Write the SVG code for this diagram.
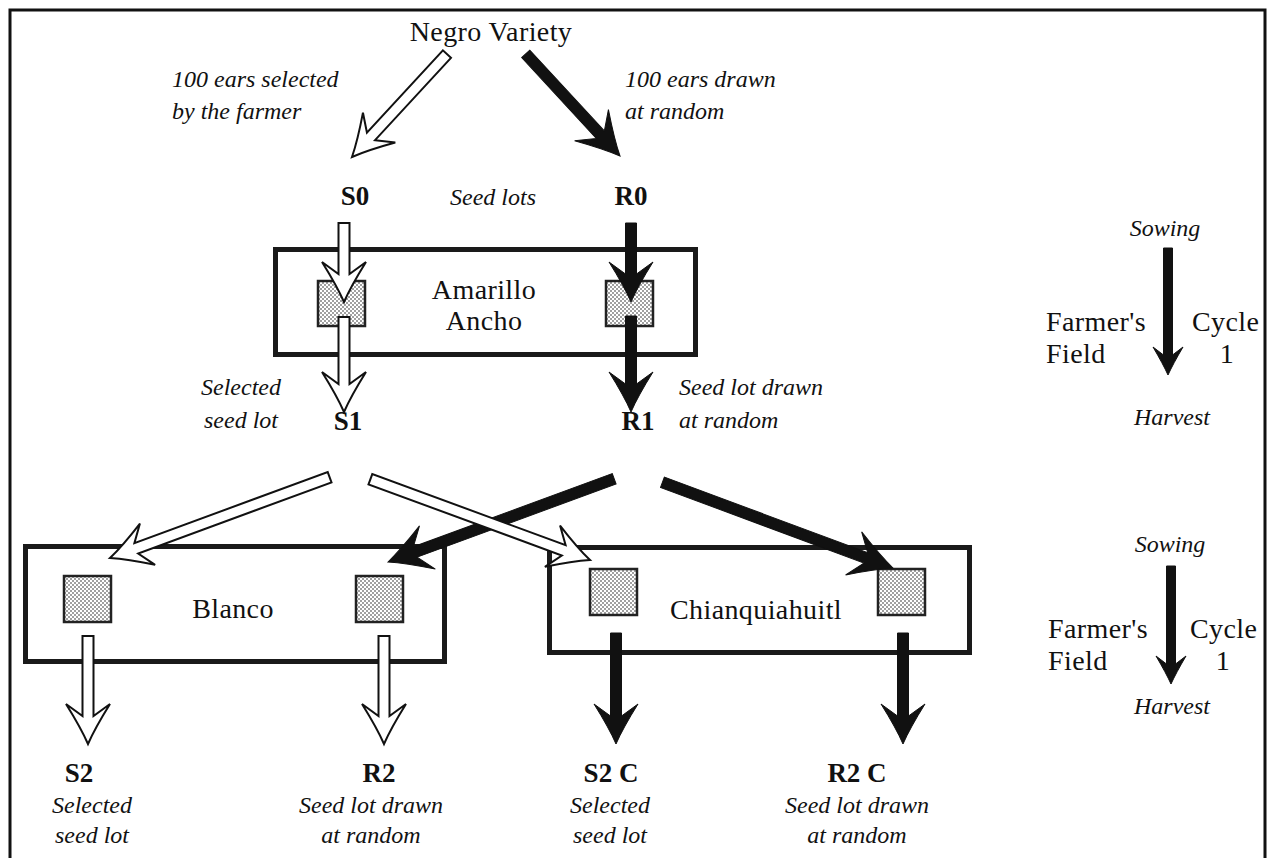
<svg xmlns="http://www.w3.org/2000/svg" width="1274" height="858" viewBox="0 0 1274 858" font-family="'Liberation Serif','Times New Roman',serif">
<style>
text{font-family:"Liberation Serif","Times New Roman",serif;fill:#111}
.r{font-size:28px;letter-spacing:0.4px}
.i{font-size:24px;font-style:italic}
.b{font-size:27px;font-weight:bold}
.m{text-anchor:middle}
.box{fill:#fff;stroke:#1a1a1a;stroke-width:5}
.sq{fill:url(#dots);stroke:#222;stroke-width:2.5}
.wa{fill:#fff;stroke:#111;stroke-width:2;stroke-linejoin:miter}
.ba{fill:#111;stroke:#111;stroke-width:1}
</style>
<defs>
<pattern id="dots" width="4" height="4" patternUnits="userSpaceOnUse">
<rect width="4" height="4" fill="#fff"/>
<circle cx="1" cy="1" r="0.75" fill="#111"/>
<circle cx="3" cy="3" r="0.75" fill="#111"/>
</pattern>
</defs>
<rect width="1274" height="858" fill="#fff"/>
<path d="M10,858 V10 H1265 V858" fill="none" stroke="#111" stroke-width="3"/>

<g id="negro"><text class="r m" x="491" y="41">Negro Variety</text></g>
<g id="lbl-sel100"><text class="i" x="172" y="87">100 ears selected</text><text class="i" x="172" y="119">by the farmer</text></g>
<g id="lbl-rand100"><text class="i" x="625" y="87">100 ears drawn</text><text class="i" x="625" y="119">at random</text></g>
<g id="s0"><text class="b m" x="355" y="205">S0</text></g>
<g id="seedlots"><text class="i m" x="493" y="205">Seed lots</text></g>
<g id="r0"><text class="b m" x="631" y="205">R0</text></g>

<g id="amarillo">
<rect class="box" x="275.5" y="249.5" width="420" height="105"/>
<rect class="sq" x="318" y="281" width="47" height="45"/>
<rect class="sq" x="606" y="281" width="47" height="45"/>
<text class="r m" x="484" y="299">Amarillo</text>
<text class="r m" x="484" y="330">Ancho</text>
</g>

<g id="lbl-sel1"><text class="i m" x="241" y="395">Selected</text><text class="i m" x="241" y="428">seed lot</text></g>
<g id="s1"><text class="b m" x="348" y="430">S1</text></g>
<g id="r1"><text class="b m" x="638" y="430">R1</text></g>
<g id="lbl-rand1"><text class="i" x="679" y="395">Seed lot drawn</text><text class="i" x="679" y="428">at random</text></g>

<g id="blanco">
<rect class="box" x="25.5" y="546.5" width="419" height="115"/>
<rect class="sq" x="64" y="576" width="47" height="46"/>
<rect class="sq" x="356" y="576" width="47" height="46"/>
<text class="r m" x="233" y="618">Blanco</text>
</g>

<g id="chianquiahuitl">
<rect class="box" x="549.5" y="547.5" width="420" height="105"/>
<rect class="sq" x="590" y="569" width="47" height="46"/>
<rect class="sq" x="878" y="569" width="47" height="46"/>
<text class="r m" x="756" y="619">Chianquiahuitl</text>
</g>

<g id="s2"><text class="b m" x="79" y="782">S2</text><text class="i m" x="92" y="813">Selected</text><text class="i m" x="92" y="843">seed lot</text></g>
<g id="r2"><text class="b m" x="379" y="782">R2</text><text class="i m" x="371" y="813">Seed lot drawn</text><text class="i m" x="371" y="843">at random</text></g>
<g id="s2c"><text class="b m" x="611" y="782">S2 C</text><text class="i m" x="610" y="813">Selected</text><text class="i m" x="610" y="843">seed lot</text></g>
<g id="r2c"><text class="b m" x="857" y="782">R2 C</text><text class="i m" x="857" y="813">Seed lot drawn</text><text class="i m" x="857" y="843">at random</text></g>

<g id="legend1">
<text class="i m" x="1165" y="236">Sowing</text>
<text class="r" x="1046" y="331">Farmer's</text>
<text class="r" x="1046" y="363">Field</text>
<text class="r" x="1192" y="331">Cycle</text>
<text class="r m" x="1227" y="363">1</text>
<text class="i m" x="1172" y="425">Harvest</text>
</g>
<g id="legend2">
<text class="i m" x="1170" y="552">Sowing</text>
<text class="r" x="1048" y="638">Farmer's</text>
<text class="r" x="1048" y="670">Field</text>
<text class="r" x="1190" y="638">Cycle</text>
<text class="r m" x="1223" y="670">1</text>
<text class="i m" x="1172" y="714">Harvest</text>
</g>

<g id="connectors">
<path class="wa" transform="translate(352,157) rotate(132.7)" d="M0,0 Q-16,-7 -40,-22 L-28,-5.5 L-140,-5.5 L-140,5.5 L-28,5.5 L-40,22 Q-16,7 0,0Z"/>
<path class="ba" transform="translate(620,156) rotate(47.3)" d="M0,0 Q-16,-7 -42,-23 L-29,-5.5 L-139,-5.5 L-139,5.5 L-29,5.5 L-42,23 Q-16,7 0,0Z"/>
<path class="wa" transform="translate(344,302) rotate(90)" d="M0,0 Q-16,-7 -40,-22 L-28,-5.5 L-79,-5.5 L-79,5.5 L-28,5.5 L-40,22 Q-16,7 0,0Z"/>
<path class="wa" transform="translate(344,412) rotate(90)" d="M0,0 Q-16,-7 -40,-22 L-28,-5.5 L-95,-5.5 L-95,5.5 L-28,5.5 L-40,22 Q-16,7 0,0Z"/>
<path class="ba" transform="translate(631,302) rotate(90)" d="M0,0 Q-16,-7 -40,-22 L-28,-5.5 L-79,-5.5 L-79,5.5 L-28,5.5 L-40,22 Q-16,7 0,0Z"/>
<path class="ba" transform="translate(631,412) rotate(90)" d="M0,0 Q-16,-7 -40,-22 L-28,-5.5 L-96,-5.5 L-96,5.5 L-28,5.5 L-40,22 Q-16,7 0,0Z"/>
<path class="wa" transform="translate(110,558) rotate(159.8)" d="M0,0 Q-16,-7 -40,-22 L-28,-5.5 L-234,-5.5 L-234,5.5 L-28,5.5 L-40,22 Q-16,7 0,0Z"/>
<path class="ba" transform="translate(388,562) rotate(159.8)" d="M0,0 Q-16,-7 -42,-23 L-29,-5.5 L-241,-5.5 L-241,5.5 L-29,5.5 L-42,23 Q-16,7 0,0Z"/>
<path class="wa" transform="translate(590,560) rotate(20.2)" d="M0,0 Q-16,-7 -40,-22 L-28,-5.5 L-234,-5.5 L-234,5.5 L-28,5.5 L-40,22 Q-16,7 0,0Z"/>
<path class="ba" transform="translate(893,568) rotate(20.4)" d="M0,0 Q-16,-7 -42,-23 L-29,-5.5 L-246,-5.5 L-246,5.5 L-29,5.5 L-42,23 Q-16,7 0,0Z"/>
<path class="wa" transform="translate(88,744) rotate(90)" d="M0,0 Q-16,-7 -40,-22 L-28,-5.5 L-108,-5.5 L-108,5.5 L-28,5.5 L-40,22 Q-16,7 0,0Z"/>
<path class="wa" transform="translate(384,744) rotate(90)" d="M0,0 Q-16,-7 -40,-22 L-28,-5.5 L-108,-5.5 L-108,5.5 L-28,5.5 L-40,22 Q-16,7 0,0Z"/>
<path class="ba" transform="translate(616,744) rotate(90)" d="M0,0 Q-16,-7 -40,-22 L-28,-5.5 L-111,-5.5 L-111,5.5 L-28,5.5 L-40,22 Q-16,7 0,0Z"/>
<path class="ba" transform="translate(903,744) rotate(90)" d="M0,0 Q-16,-7 -40,-22 L-28,-5.5 L-111,-5.5 L-111,5.5 L-28,5.5 L-40,22 Q-16,7 0,0Z"/>
<path class="ba" transform="translate(1168,375) rotate(90)" d="M0,0 Q-11,-5 -28,-15 L-20,-4.5 L-127,-4.5 L-127,4.5 L-20,4.5 L-28,15 Q-11,5 0,0Z"/>
<path class="ba" transform="translate(1171,684) rotate(90)" d="M0,0 Q-11,-5 -28,-15 L-20,-4.5 L-118,-4.5 L-118,4.5 L-20,4.5 L-28,15 Q-11,5 0,0Z"/>
</g>
</svg>
